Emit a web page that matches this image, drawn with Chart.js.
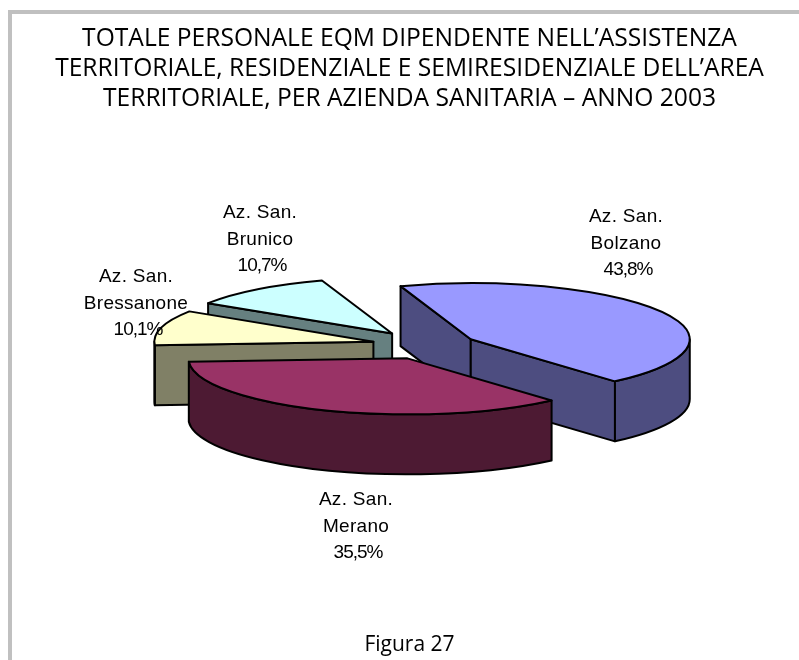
<!DOCTYPE html>
<html><head><meta charset="utf-8">
<script src="https://cdn.jsdelivr.net/npm/chart.js@4"></script>
<style>
html,body{margin:0;padding:0;background:#fff;width:799px;height:660px;overflow:hidden}
#frame{position:absolute;left:8px;top:10px;right:0;bottom:0;border-left:4px solid #c0c0c0;border-top:4px solid #c0c0c0}
canvas{position:absolute;left:0;top:0}
</style></head><body>
<div id="frame"></div>
<canvas id="c" width="799" height="660"></canvas>
<script>
const titleLines = ["TOTALE PERSONALE EQM DIPENDENTE NELL’ASSISTENZA","TERRITORIALE, RESIDENZIALE E SEMIRESIDENZIALE DELL’AREA","TERRITORIALE, PER AZIENDA SANITARIA – ANNO 2003"];
const figureCaption = "Figura 27";
const categories = ["Az. San. Bolzano","Az. San. Merano","Az. San. Bressanone","Az. San. Brunico"];
const labelLines = [["Az. San.","Bolzano"],["Az. San.","Merano"],["Az. San.","Bressanone"],["Az. San.","Brunico"]];
const values = [43.8,35.5,10.1,10.7];
const topColors = ["#9999FF","#993366","#FFFFCC","#CCFFFF"];
const sideColors = ["#4D4D80","#4D1A33","#808066","#668080"];

const pie3d = {
  id:"pie3d",
  beforeDatasetDraw(chart,args,opts){
    const ctx=chart.ctx, els=chart.getDatasetMeta(0).data;
    const k=opts.squash, depth=opts.depth;
    const arcPts=(e)=>{
      const p=e.getProps(["x","y","startAngle","endAngle","outerRadius"],true);
      const mid=(p.startAngle+p.endAngle)/2, ex=opts.explode[e.$context.dataIndex];
      return {...p,
        cx:p.x+opts.shiftX+ex*p.outerRadius*Math.cos(mid),
        cy:p.y+opts.shiftY+ex*p.outerRadius*k*Math.sin(mid)};
    };
    const xf=(g,dy)=>{ctx.translate(g.cx,g.cy+dy);ctx.scale(1,k);};
    const setStroke=()=>{ctx.strokeStyle="#000";ctx.lineWidth=opts.lineWidth;ctx.lineJoin="round";};
    opts.order.forEach(i=>{
      const e=els[i], g=arcPts(e), r=g.outerRadius;
      const pt=(a,dy)=>[g.cx+r*Math.cos(a),g.cy+dy+r*k*Math.sin(a)];
      const face=(a)=>{
        const t=pt(a,0),b=pt(a,depth);
        ctx.beginPath();ctx.moveTo(g.cx,g.cy);ctx.lineTo(t[0],t[1]);ctx.lineTo(b[0],b[1]);ctx.lineTo(g.cx,g.cy+depth);ctx.closePath();
        ctx.fillStyle=sideColors[i];ctx.fill();setStroke();ctx.stroke();
      };
      if(Math.cos(g.startAngle)<0) face(g.startAngle);
      if(Math.cos(g.endAngle)>0) face(g.endAngle);
      for(let n=-1;n<=2;n++){
        const a=Math.max(g.startAngle,n*2*Math.PI), b=Math.min(g.endAngle,n*2*Math.PI+Math.PI);
        if(b>a){
          ctx.save();xf(g,0);ctx.beginPath();ctx.arc(0,0,r,a,b);ctx.restore();
          ctx.save();xf(g,depth);ctx.arc(0,0,r,b,a,true);ctx.restore();
          ctx.closePath();ctx.fillStyle=sideColors[i];ctx.fill();setStroke();ctx.stroke();
        }
      }
      ctx.save();
      ctx.translate(g.cx,g.cy);ctx.scale(1,k);ctx.translate(-g.x,-g.y);
      e.draw(ctx);
      ctx.restore();
      ctx.save();xf(g,0);ctx.beginPath();ctx.moveTo(0,0);ctx.arc(0,0,r,g.startAngle,g.endAngle);ctx.closePath();ctx.restore();
      setStroke();ctx.stroke();
    });
    return false;
  },
  afterDatasetsDraw(chart,args,opts){
    const ctx=chart.ctx;
    ctx.save();ctx.fillStyle="#000";ctx.font=opts.labelFont;ctx.textAlign="center";ctx.textBaseline="middle";
    values.forEach((v,i)=>{
      const a=opts.labelPos[i];
      ctx.letterSpacing=opts.wordSpacing;
      labelLines[i].forEach((t,j)=>ctx.fillText(t,a[0],a[1]+j*opts.labelStep));
      ctx.letterSpacing=opts.percentSpacing;
      ctx.fillText(v.toFixed(1).replace(".",",")+"%",a[0]+2,a[1]+2*opts.labelStep);
    });
    ctx.restore();
  }
};

new Chart(document.getElementById("c"),{
  type:"pie",
  data:{labels:categories,datasets:[{data:values,backgroundColor:topColors,borderWidth:0}]},
  plugins:[pie3d],
  options:{
    responsive:false,animation:false,
    rotation:-18.7,radius:219,
    layout:{padding:{left:20,right:0,top:0,bottom:0}},
    plugins:{
      legend:{display:false},tooltip:{enabled:false},
      title:{display:true,text:titleLines,color:"#000",font:{family:"'Open Sans'",size:24.6,weight:"normal",lineHeight:1.22},padding:{top:24,bottom:0}},
      subtitle:{display:true,position:"bottom",text:figureCaption,color:"#000",font:{family:"'Open Sans'",size:21,weight:"normal",lineHeight:1.2},padding:{top:0,bottom:2}},
      pie3d:{squash:0.2557,depth:60,shiftX:19,shiftY:-28,lineWidth:2,
        explode:[0.2227,0.25,0.26,0.27],order:[3,2,0,1],
        labelFont:"19px 'Liberation Sans'",labelStep:26.5,wordSpacing:"0.3px",percentSpacing:"-1px",
        labelPos:[[626,217],[356,500],[136,277],[260,213]]}
    }
  }
});
</script></body></html>
